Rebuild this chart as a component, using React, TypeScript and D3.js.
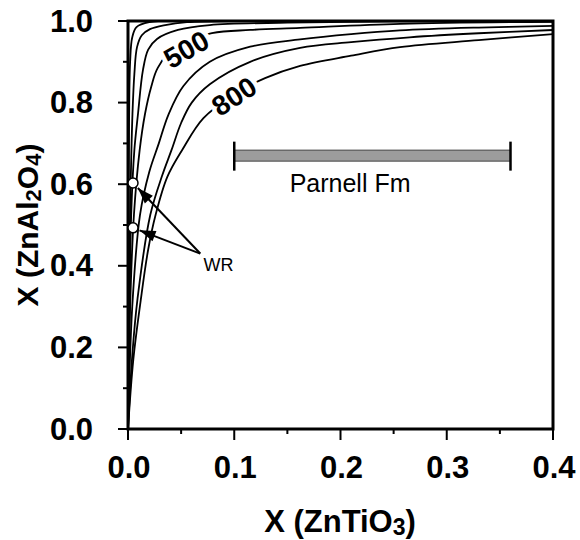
import React from 'react';
import * as d3 from 'd3';

// isotherm curves, [X(ZnTiO3), X(ZnAl2O4)]
const curve200: [number, number][] = [
  [0, 0], [0.0005, 0.5], [0.001, 0.75], [0.002, 0.9], [0.004, 0.96], [0.008, 0.985], [0.02, 0.997], [0.05, 1.0],
];
const curve300: [number, number][] = [
  [0, 0], [0.0012, 0.4], [0.0025, 0.6], [0.0042, 0.772], [0.006, 0.87], [0.0085, 0.936], [0.013, 0.965],
  [0.0207, 0.98], [0.035, 0.99], [0.0555, 0.997], [0.1, 1.0],
];
const curve400: [number, number][] = [
  [0, 0], [0.0015, 0.3], [0.003, 0.525], [0.006, 0.684], [0.0094, 0.772], [0.0141, 0.88], [0.019, 0.93],
  [0.0273, 0.956], [0.047, 0.978], [0.077, 0.99], [0.15, 0.996], [0.25, 0.999], [0.4, 1.0],
];
const curve500: [number, number][] = [
  [0, 0], [0.002, 0.3], [0.0056, 0.525], [0.011, 0.684], [0.016, 0.772], [0.022, 0.84], [0.028, 0.885],
  [0.045, 0.94], [0.079, 0.97], [0.115, 0.978], [0.162, 0.983], [0.256, 0.993], [0.4, 0.998],
];
const curve600: [number, number][] = [
  [0, 0], [0.004, 0.3], [0.0113, 0.525], [0.02, 0.63], [0.029, 0.7], [0.038, 0.77], [0.052, 0.84], [0.077, 0.9],
  [0.115, 0.937], [0.162, 0.955], [0.21, 0.968], [0.256, 0.977], [0.33, 0.984], [0.4, 0.988],
];
const curve700: [number, number][] = [
  [0, 0], [0.004, 0.18], [0.009, 0.32], [0.021, 0.525], [0.032, 0.62], [0.041, 0.684], [0.05, 0.75], [0.06, 0.8],
  [0.077, 0.845], [0.115, 0.9], [0.162, 0.934], [0.21, 0.948], [0.265, 0.96], [0.33, 0.97], [0.4, 0.978],
];
const curve800: [number, number][] = [
  [0, 0], [0.005, 0.17], [0.012, 0.316], [0.019, 0.44], [0.026, 0.525], [0.037, 0.618], [0.051, 0.684],
  [0.071, 0.762], [0.1, 0.82], [0.129, 0.86], [0.162, 0.89], [0.21, 0.915], [0.256, 0.936], [0.33, 0.953], [0.4, 0.968],
];
const curves = [curve200, curve300, curve400, curve500, curve600, curve700, curve800];

// whole-rock points
const wrPoints: [number, number][] = [[0.0047, 0.603], [0.0047, 0.493]];
const wrLabelPos: [number, number] = [0.071, 0.387];
const wrArrowTail: [number, number] = [0.068, 0.43];

// Parnell Fm range
const parnellRange = [0.1, 0.36];
const parnellY = 0.67;
const parnellLabelX = 0.209;

// curve labels: [text, x, y, angle]
const curveLabels: [string, number, number, number][] = [
  ['500', 0.055, 0.93, -30],
  ['800', 0.1, 0.815, -33],
];

const xMajor = [0, 0.1, 0.2, 0.3, 0.4];
const xMinor = [0.05, 0.15, 0.25, 0.35];
const yMajor = [0, 0.2, 0.4, 0.6, 0.8, 1.0];
const yMinor = [0.1, 0.3, 0.5, 0.7, 0.9];

const W = 580;
const H = 540;
const FONT = 'Liberation Sans, Arial, Helvetica, sans-serif';

export default function App() {
  const x = d3.scaleLinear().domain([0, 0.4]).range([128, 553]);
  const y = d3.scaleLinear().domain([0, 1]).range([429, 21]);

  const line = d3.line<[number, number]>()
    .x(d => x(d[0]))
    .y(d => y(d[1]))
    .curve(d3.curveCatmullRom.alpha(0.5));

  const [x0, x1] = x.range();
  const [y0, y1] = y.range();
  const r = 5;

  // arrows from the WR label to each circle
  const arrows = wrPoints.map(p => {
    const tx = x(wrArrowTail[0]), ty = y(wrArrowTail[1]);
    const cx = x(p[0]), cy = y(p[1]);
    const dx = cx - tx, dy = cy - ty;
    const len = Math.hypot(dx, dy);
    const ux = dx / len, uy = dy / len;
    const tipX = cx - ux * (r + 2), tipY = cy - uy * (r + 2);
    const hl = 16, hw = 5.5;
    const bx = tipX - ux * hl, by = tipY - uy * hl;
    const head = `M${tipX},${tipY}L${bx - uy * hw},${by + ux * hw}L${bx + uy * hw},${by - ux * hw}Z`;
    return { tx, ty, tipX, tipY, head };
  });

  return (
    <svg width={W} height={H} style={{ position: 'absolute', left: 0, top: 0, background: '#fff' }}
      fontFamily={FONT}>
      {/* curves */}
      {curves.map((c, i) => (
        <path key={i} d={line(c) || ''} fill="none" stroke="#000" strokeWidth={1.8} />
      ))}

      {/* curve labels, white halo cuts the curve */}
      {curveLabels.map(([t, lx, ly, a]) => (
        <text key={t} x={x(lx)} y={y(ly)} transform={`rotate(${a},${x(lx)},${y(ly)})`}
          textAnchor="middle" dominantBaseline="central" fontSize={28} fontWeight="bold"
          stroke="#fff" strokeWidth={9} paintOrder="stroke" fill="#000">{t}</text>
      ))}

      {/* frame */}
      <rect x={x0} y={y1} width={x1 - x0} height={y0 - y1} fill="none" stroke="#000" strokeWidth={3} />

      {/* x ticks */}
      {xMajor.map(v => (
        <g key={v}>
          <line x1={x(v)} x2={x(v)} y1={y0} y2={y0 + 11} stroke="#000" strokeWidth={2} />
          <text x={x(v) + 1} y={478} textAnchor="middle" fontSize={31} fontWeight="bold">{v.toFixed(1)}</text>
        </g>
      ))}
      {xMinor.map(v => (
        <line key={v} x1={x(v)} x2={x(v)} y1={y0} y2={y0 + 5} stroke="#000" strokeWidth={2} />
      ))}

      {/* y ticks */}
      {yMajor.map(v => (
        <g key={v}>
          <line x1={x0 - 10} x2={x0} y1={y(v)} y2={y(v)} stroke="#000" strokeWidth={2} />
          <text x={93} y={y(v) + 10.5} textAnchor="end" fontSize={31} fontWeight="bold">{v.toFixed(1)}</text>
        </g>
      ))}
      {yMinor.map(v => (
        <line key={v} x1={x0 - 5} x2={x0} y1={y(v)} y2={y(v)} stroke="#000" strokeWidth={2} />
      ))}

      {/* axis titles */}
      <text x={340} y={532} textAnchor="middle" fontSize={31} fontWeight="bold">
        X (ZnTiO<tspan fontSize={23} dy={3}>3</tspan><tspan dy={-3}>)</tspan>
      </text>
      <text transform="translate(38,225) rotate(-90)" textAnchor="middle" fontSize={30} fontWeight="bold">
        X (ZnAl<tspan fontSize={22} dy={3}>2</tspan><tspan dy={-3}>O</tspan><tspan fontSize={22} dy={3}>4</tspan><tspan dy={-3}>)</tspan>
      </text>

      {/* Parnell Fm bar */}
      <rect x={x(parnellRange[0])} y={y(parnellY) - 5.5} width={x(parnellRange[1]) - x(parnellRange[0])} height={11}
        fill="#9c9c9c" stroke="#444" strokeWidth={1} />
      {parnellRange.map(v => (
        <line key={v} x1={x(v)} x2={x(v)} y1={y(parnellY) - 14} y2={y(parnellY) + 15} stroke="#000" strokeWidth={2.5} />
      ))}
      <text x={x(parnellLabelX)} y={192} textAnchor="middle" fontSize={25}>Parnell Fm</text>

      {/* WR arrows and points */}
      {arrows.map((a, i) => (
        <g key={i}>
          <line x1={a.tx} y1={a.ty} x2={a.tipX} y2={a.tipY} stroke="#000" strokeWidth={2} />
          <path d={a.head} fill="#000" />
        </g>
      ))}
      {wrPoints.map((p, i) => (
        <circle key={i} cx={x(p[0])} cy={y(p[1])} r={r} fill="#fff" stroke="#000" strokeWidth={1.5} />
      ))}
      <text x={x(wrLabelPos[0])} y={y(wrLabelPos[1])} fontSize={18}>WR</text>
    </svg>
  );
}
